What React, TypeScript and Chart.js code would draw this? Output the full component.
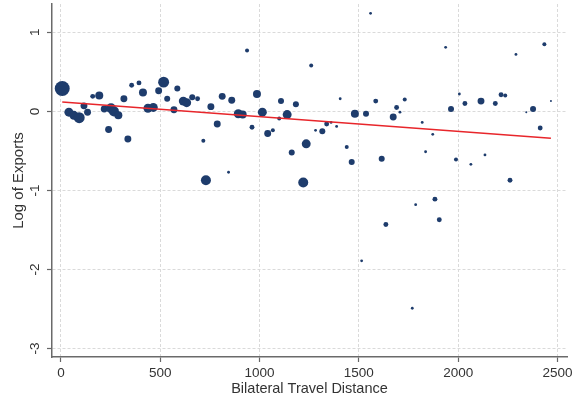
import { useEffect, useRef } from 'react';
import { Chart, registerables } from 'chart.js';

Chart.register(...registerables);

// Bilateral travel distance (x) for each country pair
const distance = [
  6.5, 40, 65, 92, 116, 134, 160, 193, 218, 240,
  252, 267, 289, 317, 337, 356, 393, 413, 438, 465,
  492, 517, 535, 569, 586, 616, 633, 661, 688, 717,
  730, 755, 787, 812, 844, 860, 893, 915, 937, 962,
  987, 1014, 1041, 1067, 1099, 1108, 1139, 1162, 1183, 1220,
  1235, 1260, 1282, 1316, 1338, 1360, 1388, 1406, 1439, 1464,
  1480, 1536, 1559, 1585, 1615, 1673, 1690, 1707, 1731, 1819,
  1836, 1872, 1937, 1964, 1989, 2006, 2034, 2064, 2115, 2135,
  2187, 2216, 2237, 2261, 2291, 2343, 2377, 2413, 2434, 2467,
  1883, 1786, 1905, 1636, 1769, 1514,
];

// Log of exports (y)
const logExports = [
  0.29, -0.01, -0.05, -0.08, 0.07, -0.01, 0.19, 0.2, 0.03, -0.23,
  0.04, 0.0, -0.05, 0.16, -0.35, 0.33, 0.36, 0.24, 0.04, 0.05,
  0.26, 0.37, 0.16, 0.02, 0.29, 0.13, 0.11, 0.18, 0.16, -0.37,
  -0.87, 0.06, -0.16, 0.19, -0.77, 0.14, -0.03, -0.04, 0.77, -0.2,
  0.22, -0.01, -0.28, -0.24, -0.09, 0.13, -0.04, -0.52, 0.09, -0.9,
  -0.41, 0.58, -0.24, -0.25, -0.16, -0.14, -0.19, 0.16, -0.45, -0.64,
  -0.03, -0.03, 1.24, 0.13, -0.6, -0.07, 0.05, -0.01, 0.15, -0.14,
  -0.51, -0.29, 0.81, 0.03, -0.61, 0.22, 0.1, -0.67, 0.13, -0.55,
  0.1, 0.21, 0.2, -0.87, 0.72, -0.01, 0.03, -0.21, 0.85, 0.13,
  -1.11, -1.18, -1.37, -1.43, -2.49, -1.89,
];

// Relative marker weight of each observation
const weight = [
  56, 20, 20, 30, 12, 12, 6, 16, 12, 12,
  25, 25, 16, 12, 12, 6, 6, 16, 20, 20,
  12, 30, 9, 12, 9, 20, 20, 9, 6, 4,
  25, 12, 12, 12, 2, 12, 20, 16, 4, 6,
  16, 20, 12, 4, 4, 9, 20, 9, 9, 25,
  20, 4, 2, 9, 6, 2, 2, 2, 4, 9,
  16, 9, 2, 6, 9, 12, 6, 2, 4, 2,
  2, 2, 2, 9, 4, 2, 6, 2, 12, 2,
  6, 6, 4, 6, 2, 1, 9, 6, 4, 1,
  6, 2, 6, 6, 2, 2,
];

// Fitted regression line endpoints
const fitDistance = [6.5, 2467];
const fitLogExports = [0.118, -0.34];

const xTickValues = [0, 500, 1000, 1500, 2000, 2500];
const yTickValues = [-3, -2, -1, 0, 1];

const FONT = "'Liberation Sans', Arial, Helvetica, sans-serif";

export default function App() {
  const ref = useRef<HTMLCanvasElement>(null);

  useEffect(() => {
    document.body.style.margin = '0';
    const canvas = ref.current;
    if (!canvas) return;
    Chart.defaults.font.family = FONT;

    const chart = new Chart(canvas, {
      type: 'scatter',
      data: {
        datasets: [
          {
            type: 'line',
            data: fitDistance.map((x, i) => ({ x, y: fitLogExports[i] })),
            borderColor: '#e8262b',
            borderWidth: 1.6,
            pointRadius: 0,
            fill: false,
            order: 0,
          },
          {
            type: 'scatter',
            data: distance.map((x, i) => ({ x, y: logExports[i] })),
            pointRadius: weight.map((w) => Math.sqrt(w)),
            backgroundColor: '#1e3c6c',
            borderColor: '#1e3c6c',
            borderWidth: 0,
            order: 1,
          },
        ],
      },
      options: {
        responsive: false,
        animation: false,
        devicePixelRatio: 1,
        layout: { autoPadding: false, padding: { top: 4, right: 14, left: 0, bottom: 0 } },
        plugins: {
          legend: { display: false },
          tooltip: { enabled: false },
        },
        scales: {
          x: {
            type: 'linear',
            min: -45,
            max: 2548,
            afterBuildTicks: (s: any) => {
              s.ticks = xTickValues.map((v) => ({ value: v }));
            },
            afterFit: (s: any) => {
              s.height = 45;
              s.paddingLeft = 0;
              s.paddingRight = 0;
            },
            grid: {
              color: '#dadada',
              lineWidth: 1,
              tickLength: 5,
              tickColor: '#666',
              tickWidth: 1.2,
            },
            border: { color: '#6a6a6a', width: 1.5, dash: [3, 2] },
            ticks: {
              color: '#333',
              font: { family: FONT, size: 13.5 },
              padding: 3,
              maxRotation: 0,
              autoSkip: false,
              callback: (v: any) => String(v),
            },
            title: {
              display: true,
              text: 'Bilateral Travel Distance',
              color: '#333',
              font: { family: FONT, size: 14.5 },
              padding: { top: 0, bottom: 4 },
            },
          },
          y: {
            type: 'linear',
            min: -3.106,
            max: 1.358,
            afterBuildTicks: (s: any) => {
              s.ticks = yTickValues.map((v) => ({ value: v }));
            },
            afterFit: (s: any) => {
              s.width = 52;
              s.paddingTop = 0;
              s.paddingBottom = 0;
            },
            grid: {
              color: '#dadada',
              lineWidth: 1,
              tickLength: 5,
              tickColor: '#666',
              tickWidth: 1.2,
            },
            border: { color: '#6a6a6a', width: 1.5, dash: [3, 2] },
            ticks: {
              color: '#333',
              font: { family: FONT, size: 13.5 },
              padding: 6,
              minRotation: 90,
              maxRotation: 90,
              crossAlign: 'center',
              autoSkip: false,
              callback: (v: any) => String(v),
            },
            title: {
              display: true,
              text: 'Log of Exports',
              color: '#333',
              font: { family: FONT, size: 15 },
              padding: { top: 10, bottom: 0 },
            },
          },
        },
      },
    } as any);

    return () => chart.destroy();
  }, []);

  return (
    <div style={{ width: 581, height: 402, background: '#fff' }}>
      <canvas ref={ref} width={581} height={402} style={{ display: 'block' }} />
    </div>
  );
}
